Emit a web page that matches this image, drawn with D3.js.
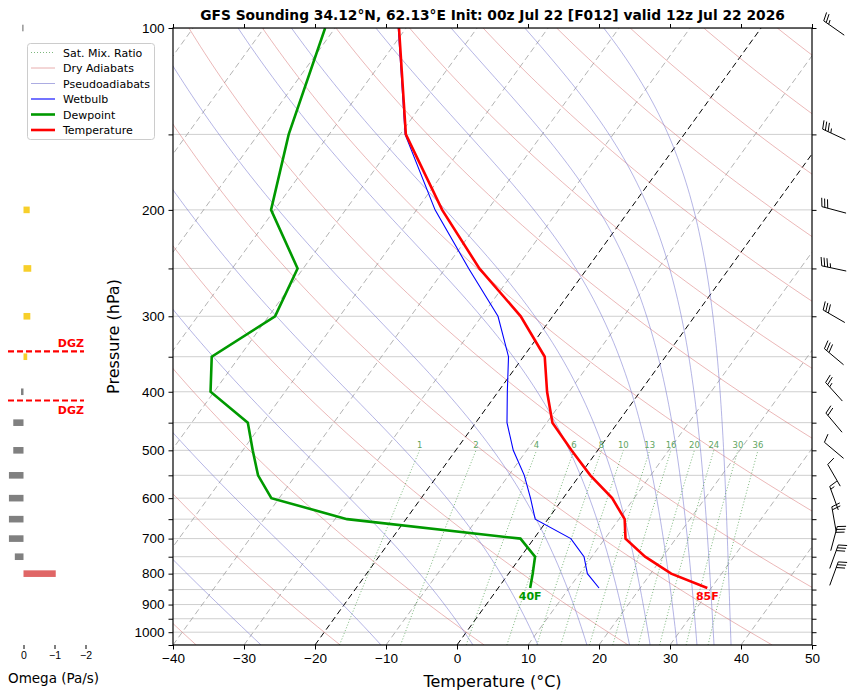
<!DOCTYPE html>
<head>
  <meta charset="utf-8">
  <script src="https://d3js.org/d3.v7.min.js"></script>
  <style>
    body { margin: 0; padding: 0; background: #fff; }
    svg { display: block; font-family: "DejaVu Sans", sans-serif; }
  </style>
</head>
<body>
<script>
  // sounding levels (hPa), first one is the surface
  var pressure = [845, 800, 750, 700, 650, 600, 550, 500, 450, 400, 350, 300, 250, 200, 150, 100];
  var temperature = [29.45, 22.9, 17.5, 12.9, 10.8, 6.9, 1.5, -3.7, -9.2, -13.1, -17.0, -24.5, -35.2, -46.4, -59.2, -71.0];
  var dewpoint = [4.5, 3.4, 2.0, -1.9, -28.3, -41.1, -45.3, -48.6, -52.1, -60.5, -63.9, -59.1, -60.8, -70.5, -75.7, -81.4];
  var wetbulb = [14.2, 11.1, 8.9, 5.2, -1.8, -4.6, -7.8, -11.9, -15.6, -18.7, -22.1, -27.7, -36.7, -47.4, -59.3, -71.1];

  // winds and omega on the standard levels
  var windP = [100, 150, 200, 250, 300, 350, 400, 450, 500, 550, 600, 650, 700, 750, 800];
  var windDir = [305, 295, 285, 282, 300, 310, 318, 320, 310, 330, 340, 350, 15, 20, 20];
  var windSpd = [25, 35, 30, 35, 30, 30, 25, 20, 10, 10, 15, 20, 30, 30, 30];
  var omega = [0.04, 0, -0.2, -0.25, -0.22, -0.12, 0.08, 0.33, 0.33, 0.47, 0.47, 0.47, 0.47, 0.28, -1.04];

  // background lines
  var isotherms = d3.range(-120, 51, 10);
  var dryT0 = d3.range(-40, 241, 20);          // degC at 1000 hPa
  var moistTbot = [-27.6, -10.7, 2.25, 11.4, 18.3, 24.3, 27.2, 31.0, 33.8, 36.2, 38.6]; // degC at 1050 hPa
  var mixRatios = [1, 2, 4, 6, 8, 10, 13, 16, 20, 24, 30, 36];  // g/kg

  var xTicks = d3.range(-40, 51, 10);
  var pTicks = d3.range(100, 1051, 50);
  var pLabels = [100, 200, 300, 400, 500, 600, 700, 800, 900, 1000];
  var omegaTicks = [0, -1, -2];

  var title = "GFS Sounding 34.12\u00b0N, 62.13\u00b0E Init: 00z Jul 22 [F012] valid 12z Jul 22 2026";

  var W = 853, H = 696;
  var plotL = 173, plotR = 812, plotT = 28, plotB = 645;
  var pBot = 1050, pTop = 100, skew = 0.723;

  var x = d3.scaleLinear().domain([-40, 50]).range([plotL, plotR]);
  var y = d3.scaleLog().domain([pBot, pTop]).range([plotB, plotT]);
  function sx(t, p) { return x(t) + (y(pBot) - y(p)) * skew; }

  var svg = d3.select("body").append("svg").attr("width", W).attr("height", H);
  svg.append("defs").append("clipPath").attr("id", "plot")
    .append("rect").attr("x", plotL).attr("y", plotT).attr("width", plotR - plotL).attr("height", plotB - plotT);

  var line = d3.line().x(function (d) { return sx(d[0], d[1]); }).y(function (d) { return y(d[1]); });
  var g = svg.append("g").attr("clip-path", "url(#plot)");

  // horizontal grid
  g.selectAll(".grid").data(pTicks).enter().append("line")
    .attr("x1", plotL).attr("x2", plotR)
    .attr("y1", function (d) { return y(d); }).attr("y2", function (d) { return y(d); })
    .attr("stroke", "#cfcfcf").attr("stroke-width", 1);

  var pGrid = d3.range(0, 101).map(function (i) { return pBot * Math.pow(pTop / pBot, i / 100); });

  // isotherms
  g.selectAll(".iso").data(isotherms).enter().append("path")
    .attr("d", function (t) { return line([[t, pBot], [t, pTop]]); })
    .attr("fill", "none")
    .attr("stroke", function (t) { return (t === 0 || t === -20) ? "#000" : "#a0a0a0"; })
    .attr("stroke-width", function (t) { return (t === 0 || t === -20) ? 1 : 0.8; })
    .attr("stroke-dasharray", "6,3.5");

  // dry adiabats
  g.selectAll(".dry").data(dryT0).enter().append("path")
    .attr("d", function (t0) {
      return line(pGrid.map(function (p) { return [(t0 + 273.15) * Math.pow(p / 1000, 0.2857) - 273.15, p]; }));
    })
    .attr("fill", "none").attr("stroke", "#d46a6a").attr("stroke-opacity", 0.6).attr("stroke-width", 0.8);

  // pseudoadiabats
  function es(tc) { return 6.112 * Math.exp(17.67 * tc / (tc + 243.5)); }
  function dTdp(p, tk) {
    var e = es(tk - 273.15), rs = 0.622 * e / (p - e);
    var Lv = 2.501e6, Rd = 287.047, Cp = 1004.67;
    return (Rd * tk + Lv * rs) / (p * (Cp + Lv * Lv * rs * 0.622 / (Rd * tk * tk)));
  }
  function moist(tb) {
    var tk = tb + 273.15, pts = [[tb, pGrid[0]]];
    for (var i = 1; i < pGrid.length; i++) {
      var p0 = pGrid[i - 1], h = pGrid[i] - p0;
      var k1 = dTdp(p0, tk), k2 = dTdp(p0 + h / 2, tk + h / 2 * k1),
        k3 = dTdp(p0 + h / 2, tk + h / 2 * k2), k4 = dTdp(p0 + h, tk + h * k3);
      tk += h / 6 * (k1 + 2 * k2 + 2 * k3 + k4);
      pts.push([tk - 273.15, pGrid[i]]);
    }
    return pts;
  }
  g.selectAll(".moist").data(moistTbot).enter().append("path")
    .attr("d", function (tb) { return line(moist(tb)); })
    .attr("fill", "none").attr("stroke", "#7a7ad0").attr("stroke-opacity", 0.7).attr("stroke-width", 0.8);

  // saturation mixing ratio lines
  function tdFromW(w, p) {
    var e = p * (w / 1000) / (0.622 + w / 1000), l = Math.log(e / 6.112);
    return 243.5 * l / (17.67 - l);
  }
  var pMix = d3.range(0, 31).map(function (i) { return pBot * Math.pow(500 / pBot, i / 30); });
  g.selectAll(".mix").data(mixRatios).enter().append("path")
    .attr("d", function (w) { return line(pMix.map(function (p) { return [tdFromW(w, p), p]; })); })
    .attr("fill", "none").attr("stroke", "#4a9a4a").attr("stroke-opacity", 0.8)
    .attr("stroke-width", 0.9).attr("stroke-dasharray", "1,2");
  g.selectAll(".mixlab").data(mixRatios).enter().append("text")
    .attr("x", function (w) { return sx(tdFromW(w, 500), 500); })
    .attr("y", y(500) - 2)
    .attr("text-anchor", "middle").attr("font-size", 8.5).attr("fill", "#5fa55f")
    .text(function (w) { return w; });

  // profiles
  function prof(arr) { return arr.map(function (t, i) { return [t, pressure[i]]; }); }
  g.append("path").attr("d", line(prof(wetbulb))).attr("fill", "none").attr("stroke", "#0000ff").attr("stroke-width", 1.1);
  g.append("path").attr("d", line(prof(dewpoint))).attr("fill", "none").attr("stroke", "#009900").attr("stroke-width", 2.6);
  g.append("path").attr("d", line(prof(temperature))).attr("fill", "none").attr("stroke", "#ff0000").attr("stroke-width", 2.6);

  function toF(c) { return Math.round(c * 9 / 5 + 32) + "F"; }
  svg.append("text").attr("x", sx(temperature[0], pressure[0])).attr("y", y(pressure[0]) + 12)
    .attr("text-anchor", "middle").attr("font-size", 11).attr("font-weight", "bold").attr("fill", "#ff0000")
    .text(toF(temperature[0]));
  svg.append("text").attr("x", sx(dewpoint[0], pressure[0])).attr("y", y(pressure[0]) + 12)
    .attr("text-anchor", "middle").attr("font-size", 11).attr("font-weight", "bold").attr("fill", "#009900")
    .text(toF(dewpoint[0]));

  // frame and axes
  svg.append("rect").attr("x", plotL).attr("y", plotT).attr("width", plotR - plotL).attr("height", plotB - plotT)
    .attr("fill", "none").attr("stroke", "#000").attr("stroke-width", 1.2);

  svg.append("g").attr("transform", "translate(0," + plotB + ")")
    .call(d3.axisBottom(x).tickValues(xTicks).tickSize(4.5).tickPadding(4)
      .tickFormat(function (d) { return d < 0 ? "\u2212" + (-d) : d; }))
    .call(function (a) { a.select(".domain").remove(); a.selectAll("text").attr("font-size", 13.5); });
  svg.append("g").attr("transform", "translate(0," + plotT + ")")
    .call(d3.axisTop(x).tickValues(xTicks).tickSize(4).tickFormat(""))
    .call(function (a) { a.select(".domain").remove(); });
  svg.append("g").attr("transform", "translate(" + plotL + ",0)")
    .call(d3.axisLeft(y).tickValues(pTicks).tickSize(4.5).tickPadding(4)
      .tickFormat(function (d) { return pLabels.indexOf(d) >= 0 ? d : ""; }))
    .call(function (a) { a.select(".domain").remove(); a.selectAll("text").attr("font-size", 13.5); });
  svg.append("g").attr("transform", "translate(" + plotR + ",0)")
    .call(d3.axisRight(y).tickValues(pTicks).tickSize(4.5).tickFormat(""))
    .call(function (a) { a.select(".domain").remove(); });

  svg.append("text").attr("x", (plotL + plotR) / 2).attr("y", 687).attr("text-anchor", "middle")
    .attr("font-size", 16).text("Temperature (\u00b0C)");
  svg.append("text").attr("transform", "translate(119," + ((plotT + plotB) / 2) + ") rotate(-90)")
    .attr("text-anchor", "middle").attr("font-size", 16).text("Pressure (hPa)");
  svg.append("text").attr("x", (plotL + plotR) / 2).attr("y", 20).attr("text-anchor", "middle")
    .attr("font-size", 13.8).attr("font-weight", "bold").text(title);

  // wind barbs
  function barb(cx, cy, dir, spd) {
    var L = 25, h = 8.5, sp = 3, tilt = 2.5;
    var r = dir * Math.PI / 180, ux = Math.sin(r), uy = -Math.cos(r), px = -uy, py = ux;
    var ex = cx + ux * L / 2, ey = cy + uy * L / 2;
    var bg = svg.append("g").attr("stroke", "#000").attr("stroke-width", 1).attr("fill", "none");
    bg.append("line").attr("x1", cx - ux * L / 2).attr("y1", cy - uy * L / 2).attr("x2", ex).attr("y2", ey);
    var s = Math.round(spd / 5) * 5, full = Math.floor(s / 10), half = s % 10 >= 5, off = 0;
    if (full === 0 && half) off = sp;
    for (var i = 0; i < full; i++) {
      var bx = ex - ux * off, by = ey - uy * off;
      bg.append("line").attr("x1", bx).attr("y1", by)
        .attr("x2", bx + px * h + ux * tilt).attr("y2", by + py * h + uy * tilt);
      off += sp;
    }
    if (half) {
      var hx = ex - ux * off, hy = ey - uy * off;
      bg.append("line").attr("x1", hx).attr("y1", hy)
        .attr("x2", hx + px * h / 2 + ux * tilt / 2).attr("y2", hy + py * h / 2 + uy * tilt / 2);
    }
  }
  windP.forEach(function (p, i) { barb(834, y(p), windDir[i], windSpd[i]); });

  // omega panel
  var ox = d3.scaleLinear().domain([0.5, -2.5]).range([8, 101]);
  svg.selectAll(".om").data(omega).enter().append("rect")
    .attr("x", function (v) { return Math.min(ox(v), ox(0)); })
    .attr("width", function (v) { return Math.abs(ox(v) - ox(0)); })
    .attr("y", function (v, i) { return y(windP[i]) - 3.3; })
    .attr("height", 6.6)
    .attr("fill", function (v) { return v > 0 ? "#808080" : (v > -0.5 ? "#f7cf2a" : "#e06666"); });
  svg.append("g").attr("transform", "translate(0," + plotB + ")")
    .call(d3.axisBottom(ox).tickValues(omegaTicks).tickSize(4).tickPadding(3)
      .tickFormat(function (d) { return d < 0 ? "\u2212" + (-d) : d; }))
    .call(function (a) { a.select(".domain").remove(); a.selectAll("text").attr("font-size", 10.5); });
  svg.append("text").attr("x", 8).attr("y", 683).attr("font-size", 13.5).text("Omega (Pa/s)");

  // dendritic growth zone from the temperature profile
  function pAtT(tt) {
    for (var i = 1; i < temperature.length; i++) {
      var a = temperature[i - 1], b = temperature[i];
      if ((a - tt) * (b - tt) <= 0) {
        var f = (tt - a) / (b - a);
        return Math.exp(Math.log(pressure[i - 1]) + f * (Math.log(pressure[i]) - Math.log(pressure[i - 1])));
      }
    }
  }
  var dgz = [pAtT(-18), pAtT(-12)];
  dgz.forEach(function (p, i) {
    svg.append("line").attr("x1", 8).attr("x2", 84).attr("y1", y(p)).attr("y2", y(p))
      .attr("stroke", "#ff0000").attr("stroke-width", 2.2).attr("stroke-dasharray", "6,3");
    svg.append("text").attr("x", 84).attr("y", i === 0 ? y(p) - 4 : y(p) + 14)
      .attr("text-anchor", "end").attr("font-size", 11).attr("font-weight", "bold")
      .attr("fill", "#ff0000").text("DGZ");
  });

  // legend
  var legItems = [
    { name: "Sat. Mix. Ratio", color: "#4a9a4a", w: 0.9, dash: "1,2", op: 0.8 },
    { name: "Dry Adiabats", color: "#d46a6a", w: 0.9, dash: null, op: 0.6 },
    { name: "Pseudoadiabats", color: "#7a7ad0", w: 0.9, dash: null, op: 0.7 },
    { name: "Wetbulb", color: "#0000ff", w: 1.1, dash: null, op: 1 },
    { name: "Dewpoint", color: "#009900", w: 2.6, dash: null, op: 1 },
    { name: "Temperature", color: "#ff0000", w: 2.6, dash: null, op: 1 }
  ];
  var leg = svg.append("g");
  leg.append("rect").attr("x", 27.5).attr("y", 43.5).attr("width", 127).attr("height", 96).attr("rx", 3)
    .attr("fill", "#fff").attr("fill-opacity", 0.8).attr("stroke", "#cccccc");
  legItems.forEach(function (it, i) {
    var ly = 52.5 + i * 15.5;
    leg.append("line").attr("x1", 31).attr("x2", 55).attr("y1", ly).attr("y2", ly)
      .attr("stroke", it.color).attr("stroke-width", it.w).attr("stroke-opacity", it.op)
      .attr("stroke-dasharray", it.dash);
    leg.append("text").attr("x", 63).attr("y", ly + 4).attr("font-size", 11).text(it.name);
  });
</script>
</body>
